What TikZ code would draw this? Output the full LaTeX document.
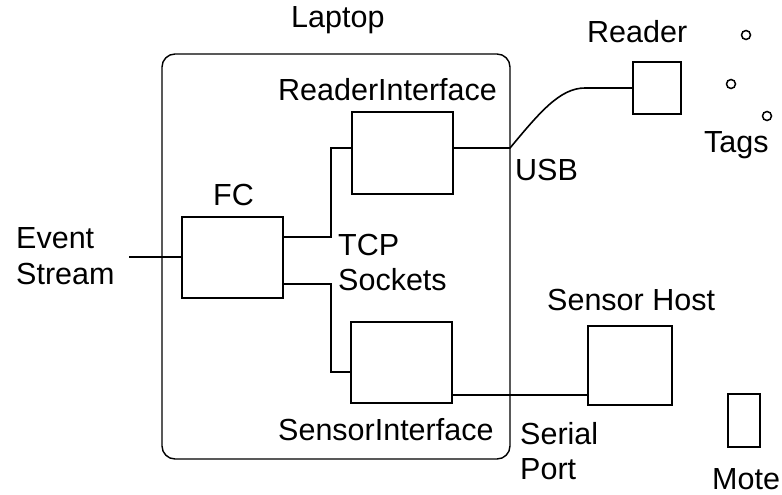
\documentclass[tikz,border=0pt]{standalone}
\usepackage{fontspec}
\setmainfont{Liberation Sans}
\begin{document}
\begin{tikzpicture}[x=1pt,y=-1pt,
  lbl/.style={anchor=base west, inner sep=0pt, font=\fontsize{30.5}{36}\selectfont},
  box/.style={draw, line width=1.6pt, minimum width=0pt, inner sep=0pt},
  wire/.style={line width=1.6pt},
  tag/.style={draw, circle, line width=1.5pt, minimum size=9pt, inner sep=0pt}]
\useasboundingbox (0,0) rectangle (782,495);
% Laptop frame
\draw[line width=1.4pt, rounded corners=13pt] (162,54) rectangle (510,459);
% boxes
\node[box, minimum width=101pt, minimum height=82pt] (ri) at (402.5,153) {};
\node[box, minimum width=101pt, minimum height=81pt] (fc) at (232.5,257.5) {};
\node[box, minimum width=101pt, minimum height=81pt] (si) at (401.5,362.5) {};
\node[box, minimum width=48pt, minimum height=52pt] (rd) at (657,88) {};
\node[box, minimum width=84pt, minimum height=79pt] (sh) at (630,365.5) {};
\node[box, minimum width=32pt, minimum height=53pt] (mt) at (744,420.5) {};
% tags
\node[tag] (t1) at (746,35) {};
\node[tag] (t2) at (731,84) {};
\node[tag] (t3) at (767,116) {};
% coordinates
\coordinate (ev) at (129,257);
\coordinate (usb) at (510,148);
\coordinate (rdin) at (585,88);
% connectors
\draw[wire] (ev) -- (ev -| fc.west);
\draw[wire] (fc.east |- 0,237) -- (331,237) -- (331,148) -- (ri.west |- 0,148);
\draw[wire] (fc.east |- 0,284) -- (331,284) -- (331,372) -- (si.west |- 0,372);
\draw[wire] (ri.east |- usb) -- (usb) .. controls (540,112) and (560,88) .. (rdin) -- (rd.west |- rdin);
\draw[wire] (si.east |- 0,395) -- (sh.west |- 0,395);
% labels
\node[lbl] (lLaptop) at (291,28) {Laptop};
\node[lbl] (lRI) at (278,100) {ReaderInterface};
\node[lbl] (lFC) at (213,205) {FC};
\node[lbl] (lEv) at (16,248) {Event};
\node[lbl] (lSt) at (16,284) {Stream};
\node[lbl] (lTCP) at (338,255) {TCP};
\node[lbl] (lSo) at (338,290) {Sockets};
\node[lbl] (lUSB) at (515,180) {USB};
\node[lbl] (lRd) at (587,43) {Reader};
\node[lbl] (lTg) at (704,152) {Tags};
\node[lbl] (lSH) at (547,310) {Sensor Host};
\node[lbl] (lSI) at (278,440) {SensorInterface};
\node[lbl] (lSe) at (520,444) {Serial};
\node[lbl] (lPo) at (520,479) {Port};
\node[lbl] (lMo) at (712,489) {Mote};
\end{tikzpicture}
\end{document}
